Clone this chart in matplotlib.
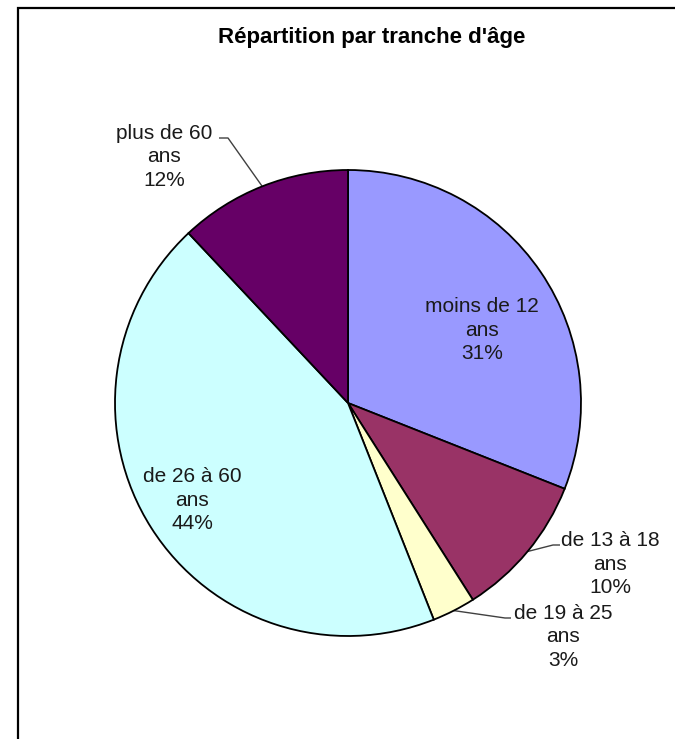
import numpy as np
import matplotlib
matplotlib.use("Agg")
import matplotlib.pyplot as plt
from matplotlib.patches import Rectangle

categories = ["moins de 12\nans", "de 13 à 18\nans", "de 19 à 25\nans", "de 26 à 60\nans", "plus de 60\nans"]
values = [31, 10, 3, 44, 12]
colors = ["#9999FF", "#993366", "#FFFFCC", "#CCFFFF", "#660066"]
title = "Répartition par tranche d'âge"

W, H = 675, 739
fig = plt.figure(figsize=(W / 100, H / 100), dpi=100)
ax = fig.add_axes([0, 0, 1, 1])

plt.rcParams["font.family"] = ["Liberation Sans", "DejaVu Sans"]

cx, cy, R = 348, H - 403, 233
wedges, _ = ax.pie(values, colors=colors, startangle=90, counterclock=False,
                   center=(cx, cy), radius=R, frame=True,
                   wedgeprops=dict(edgecolor="black", linewidth=1.3))
ax.set_xlim(0, W)
ax.set_ylim(0, H)
ax.set_aspect("equal")
ax.axis("off")

# label layout: text centre in pixels, leader elbow (x, y, end x); None = inside
layout = [
    dict(pos=(482, 330), leader=None),
    dict(pos=(610, 564), leader=(553, 545, 560)),
    dict(pos=(563, 637), leader=(505, 618, 511)),
    dict(pos=(192, 500), leader=None),
    dict(pos=(164, 157), leader=(228, 138, 219)),
]
total = sum(values)
for w, cat, v, lay in zip(wedges, categories, values, layout):
    tx, ty = lay["pos"]
    pct = round(100 * v / total)
    ax.text(tx, H - ty, f"{cat}\n{pct}%", ha="center", va="center",
            fontsize=15, linespacing=1.27, color="#1a1a1a")
    if lay["leader"] is not None:
        mid = np.deg2rad((w.theta1 + w.theta2) / 2)
        ex, ey = cx + R * np.cos(mid), cy + R * np.sin(mid)
        bx, by, lx = lay["leader"]
        ax.plot([ex, bx, lx], [ey, H - by, H - by], color="#404040", lw=1.0,
                solid_capstyle="butt", zorder=0)

ax.text(372, H - 38, title, ha="center", va="center", fontsize=16,
        fontweight="bold", color="black")

fig.patches.append(Rectangle((18 / W, -0.1), 2.0, (H - 8) / H + 0.1,
                             transform=fig.transFigure, fill=False,
                             edgecolor="black", linewidth=1.6))

fig.savefig("out.png", dpi=100)
